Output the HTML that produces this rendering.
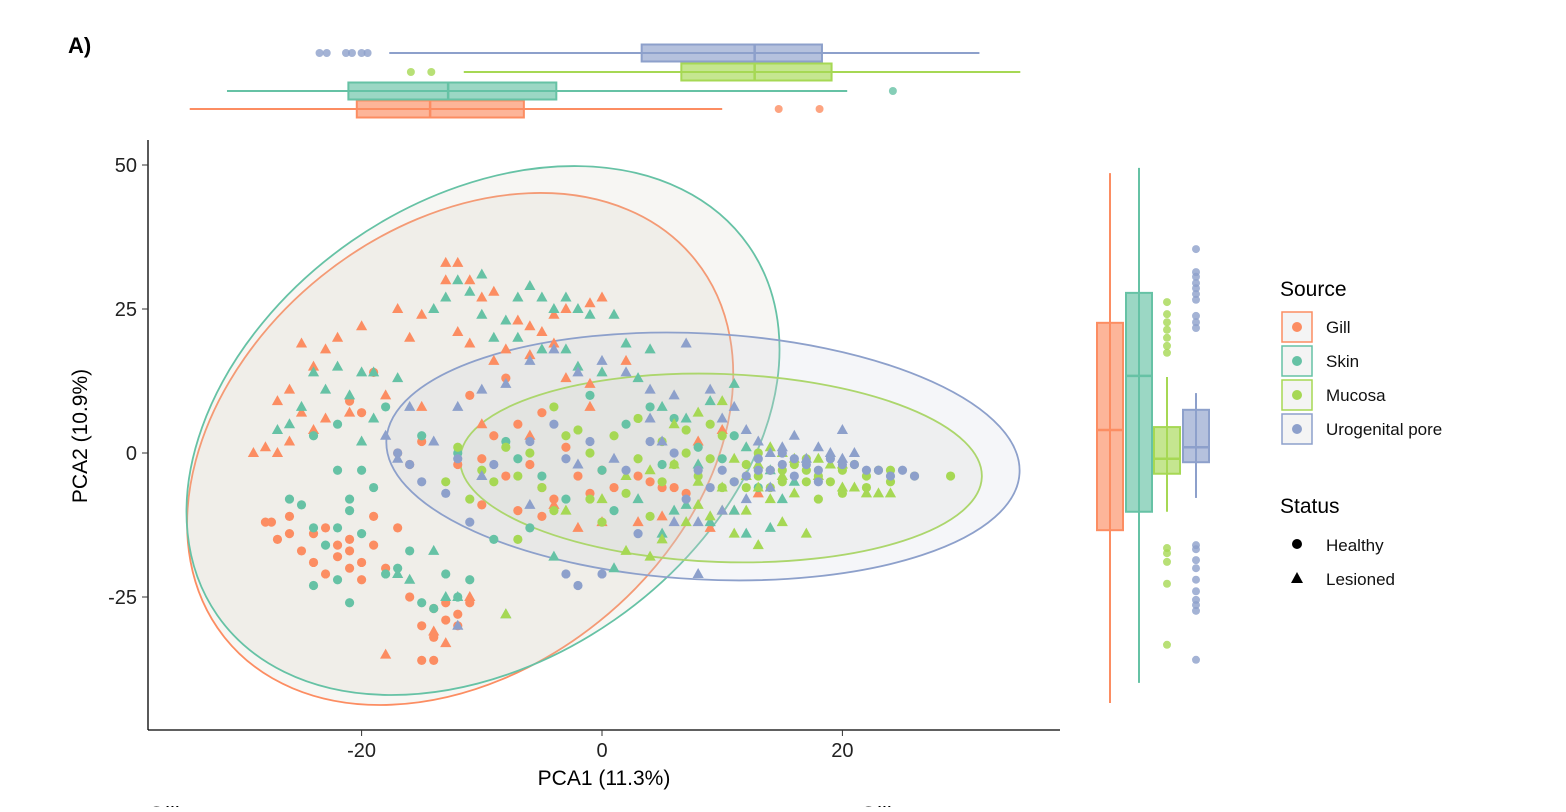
<!DOCTYPE html>
<html><head><meta charset="utf-8">
<style>
body{margin:0;background:#fff;width:1566px;height:807px;overflow:hidden;font-family:"Liberation Sans",Arial,sans-serif;}
svg text{font-family:"Liberation Sans",Arial,sans-serif;}
</style></head>
<body>
<svg id="chart" width="1566" height="807" xmlns="http://www.w3.org/2000/svg">
<text x="68" y="53" font-size="22" font-weight="bold" fill="#000">A)</text>
<g id="ellipses"></g>
<g id="points"></g>
<g id="axes"></g>
<g id="topbox"></g>
<g id="rightbox"></g>
<g id="legend"></g>
<text x="148" y="822" font-size="22" fill="#000">Gill</text>
<text x="860" y="822" font-size="22" fill="#000">Gill</text>
</svg>
<script>
const NS="http://www.w3.org/2000/svg";
const groups=["Gill","Skin","Mucosa","Urogenital pore"];
const colors=["#FC8D62","#66C2A5","#A6D854","#8DA0CB"];
const xTicks=[-20,0,20];
const yTicks=[50,25,0,-25];
const gillHealthy=[[-28,-12],[-27,-15],[-26,-11],[-25,-17],[-24,-14],[-23,-21],[-22,-18],[-21,-17],[-21,-20],[-20,-19],[-22,-16],[-24,-19],[-26,-14],[-27.5,-12],[-19,-16],[-20,-22],[-23,-13],[-21,-15],[-18,-20],[-14,-27],[-13,-26],[-15,-30],[-14,-32],[-14,-36],[-15,-36],[-12,-28],[-11,-26],[-12,-30],[-13,-29],[-16,-25],[-19,-11],[-17,-13],[-12,-2],[-10,-1],[-8,-4],[-6,-2],[-5,-6],[-4,-8],[-3,1],[-2,-4],[-1,-7],[0,-3],[1,-6],[3,-4],[4,-5],[5,-6],[6,-6],[7,-7],[-9,3],[-7,5],[-5,7],[-15,2],[-16,-2],[-17,0],[-20,7],[-21,9],[-10,-9],[-7,-10],[-5,-11],[-19,14],[-11,10],[-8,13]];
const gillLesioned=[[-13,33],[-12,33],[-11,30],[-13,30],[-10,27],[-9,28],[-7,23],[-6,22],[-5,21],[-4,24],[-3,25],[-1,26],[0,27],[-8,18],[-9,16],[-6,17],[-4,19],[-3,13],[-1,12],[-17,25],[-15,24],[-12,21],[-11,19],[-16,20],[-20,22],[-22,20],[-23,18],[-25,19],[-24,15],[-26,11],[-27,9],[-25,7],[-23,6],[-28,1],[-29,0],[-26,2],[-27,0],[-24,4],[-21,7],[-14,-31],[-13,-33],[-18,-35],[-11,-25],[-4,-9],[-2,-13],[0,-12],[3,-12],[5,-11],[9,-13],[11,-10],[13,-7],[10,4],[8,2],[-1,8],[2,16],[-6,3],[-10,5],[-15,8],[-18,10]];
const skinHealthy=[[-25,-9],[-26,-8],[-24,-13],[-23,-16],[-24,-23],[-22,-22],[-21,-10],[-20,-14],[-22,-3],[-20,-3],[-19,-6],[-21,-8],[-22,-13],[-18,-21],[-17,-20],[-16,-17],[-13,-21],[-12,-25],[-14,-27],[-15,-26],[-11,-22],[-21,-26],[-24,3],[-22,5],[-18,8],[-15,3],[-12,0],[-7,-1],[-3,-8],[0,-3],[2,5],[-1,10],[4,8],[6,6],[8,1],[10,-1],[11,3],[13,-6],[-8,2],[-5,-4],[-9,-15],[-6,-13],[1,-10],[5,-2]];
const skinLesioned=[[-12,30],[-11,28],[-10,31],[-13,27],[-14,25],[-10,24],[-8,23],[-7,27],[-6,29],[-5,27],[-4,25],[-3,27],[-2,25],[-1,24],[1,24],[-9,20],[-7,20],[-5,18],[-3,18],[-2,15],[0,14],[3,13],[4,18],[2,19],[-23,11],[-24,14],[-22,15],[-25,8],[-26,5],[-27,4],[-21,10],[-20,14],[-19,14],[-17,13],[-19,6],[-20,2],[-14,-17],[-17,-21],[-16,-22],[-13,-25],[-12,-25],[-8,-28],[-4,-18],[1,-20],[5,-14],[7,-9],[9,-12],[11,-10],[12,-14],[14,-13],[5,8],[7,6],[9,9],[11,12],[12,1],[8,-2],[14,-3],[15,-8],[16,-5],[6,-10],[3,-8]];
const mucosaHealthy=[[-2,4],[-4,8],[-3,3],[-1,0],[1,3],[3,6],[5,2],[6,-2],[7,0],[9,-1],[10,3],[12,-2],[13,-4],[14,-3],[15,-5],[16,-2],[17,-3],[18,-4],[19,-5],[20,-3],[21,-2],[22,-4],[23,-3],[24,-5],[20,-7],[18,-8],[17,-5],[15,-3],[14,-6],[12,-6],[10,-6],[8,-4],[5,-5],[2,-7],[-1,-8],[-5,-6],[-7,-4],[-9,-5],[-10,-3],[-8,1],[-6,0],[-11,-8],[-13,-5],[-12,1],[-4,-10],[0,-12],[4,-11],[29,-4],[26,-4],[24,-3],[22,-6],[17,-1],[13,0],[11,-5],[-7,-15],[3,-1],[7,4],[9,5]];
const mucosaLesioned=[[-3,-10],[0,-8],[2,-4],[4,-3],[6,-2],[8,-5],[10,-6],[11,-1],[12,-4],[13,-6],[14,-8],[15,-4],[16,-7],[13,-2],[14,1],[15,0],[16,-1],[18,-1],[19,-2],[20,-6],[21,-6],[22,-7],[23,-7],[24,-7],[12,-10],[10,-10],[8,-9],[7,-12],[5,-15],[11,-14],[13,-16],[15,-12],[17,-14],[6,5],[8,7],[10,9],[-8,-28],[2,-17],[4,-18],[9,-11],[18,-4],[20,-2]];
const uroHealthy=[[-16,-2],[-17,0],[-15,-5],[-12,-1],[-9,-2],[-6,2],[-4,5],[-3,-1],[-1,2],[2,-3],[4,2],[6,0],[8,-3],[10,-3],[12,-4],[13,-1],[14,-3],[15,-2],[16,-1],[17,-2],[18,-3],[19,-1],[20,-2],[21,-2],[22,-3],[23,-3],[24,-4],[25,-3],[26,-4],[18,-5],[16,-4],[15,0],[13,-3],[11,-5],[9,-6],[7,-8],[-3,-21],[-2,-23],[0,-21],[3,-14],[-13,-7],[-11,-12]];
const uroLesioned=[[-18,3],[-16,8],[-14,2],[-12,8],[-10,11],[-8,12],[-6,16],[-4,18],[-2,14],[0,16],[2,14],[4,11],[6,10],[7,19],[9,11],[10,6],[11,8],[12,4],[13,2],[14,0],[15,1],[16,3],[17,-1],[18,1],[19,0],[20,-1],[21,0],[14,-6],[12,-8],[10,-10],[8,-12],[6,-12],[8,-21],[-12,-30],[-10,-4],[-6,-9],[-2,-2],[1,-1],[4,6],[5,2],[20,4],[-17,-1]];
// ellipse centers (data) and semi-axes (px) + angle
const ellCenterX=[-11.8,-9.9,9.9,8.4];
const ellCenterY=[0.7,3.9,-2.6,-0.6];
const ellA=[301.7,323.6,261,317];
const ellB=[221.5,230.5,94,123];
const ellAngle=[-38.8,-34.8,2,3];
const topStats=[[-34.3,-20.4,-14.3,-6.5,10],[-31.2,-21.1,-12.8,-3.8,20.4],[-11.5,6.6,12.7,19.1,34.8],[-17.7,3.3,12.7,18.3,31.4]];
const topOutliers=[[14.7,18.1],[24.2],[-15.9,-14.2],[-23.5,-22.9,-21.3,-20.8,-20,-19.5]];
const rightStats=[[-43.4,-13.4,4,22.6,48.6],[-39.9,-10.2,13.4,27.8,49.5],[-10.2,-3.6,-1,4.5,13.2],[-7.8,-1.6,1,7.5,10.4]];
const rightOutliers=[[],[],[26.2,24.1,22.7,21.4,20,18.6,17.4,-16.5,-17.4,-18.9,-22.7,-33.3],[35.4,31.4,30.6,29.5,28.6,27.6,26.6,23.8,22.7,21.7,-16,-16.7,-18.6,-20,-22,-24,-25.5,-26.4,-27.4,-35.9]];

const X=v=>602+v*12.02, Y=v=>453-v*5.76;
function mk(tag,attrs,parent){const e=document.createElementNS(NS,tag);for(const k in attrs)e.setAttribute(k,attrs[k]);parent.appendChild(e);return e;}
const gE=document.getElementById('ellipses'),gP=document.getElementById('points'),gA=document.getElementById('axes');
groups.forEach((g,i)=>{
 const e=mk('ellipse',{cx:X(ellCenterX[i]),cy:Y(ellCenterY[i]),rx:ellA[i],ry:ellB[i],transform:`rotate(${ellAngle[i]} ${X(ellCenterX[i])} ${Y(ellCenterY[i])})`,fill:i<2?'#d8d3c4':(i==2?'#d0d4c0':'#c9cfe0'),'fill-opacity':i<2?0.2:0.18,stroke:colors[i],'stroke-width':1.8},gE);
 
 
});
const series=[[gillHealthy,gillLesioned],[skinHealthy,skinLesioned],[mucosaHealthy,mucosaLesioned],[uroHealthy,uroLesioned]];
series.forEach((s,i)=>{
 s[0].forEach(p=>{const c=mk('circle',{cx:X(p[0]),cy:Y(p[1]),r:4.6,fill:colors[i]},gP);
  
  });
 s[1].forEach(p=>{const x=X(p[0]),y=Y(p[1]);const t=mk('polygon',{points:`${x},${y-6} ${x-5.6},${y+4} ${x+5.6},${y+4}`,fill:colors[i]},gP);
  
  });
});
mk('line',{x1:148,y1:140,x2:148,y2:730,stroke:'#000','stroke-width':1.3},gA);
mk('line',{x1:148,y1:730,x2:1060,y2:730,stroke:'#000','stroke-width':1.3},gA);
xTicks.forEach(t=>{mk('line',{x1:X(t),y1:730,x2:X(t),y2:736,stroke:'#333'},gA);
 const tx=mk('text',{x:X(t),y:757,'font-size':20,'text-anchor':'middle',fill:'#222'},gA);tx.textContent=t;
 
 });
yTicks.forEach(t=>{mk('line',{x1:142,y1:Y(t),x2:148,y2:Y(t),stroke:'#333'},gA);
 const tx=mk('text',{x:137,y:Y(t)+7,'font-size':20,'text-anchor':'end',fill:'#222'},gA);tx.textContent=t;
 
 });
let xt=mk('text',{x:604,y:785,'font-size':21,'text-anchor':'middle',fill:'#000'},gA);xt.textContent='PCA1 (11.3%)';


let yt=mk('text',{x:0,y:0,'font-size':21,'text-anchor':'middle',fill:'#000',transform:'translate(87,436) rotate(-90)'},gA);yt.textContent='PCA2 (10.9%)';


const gT=document.getElementById('topbox');
const topY=[109,91,72,53];
groups.forEach((g,i)=>{const s=topStats[i],cy=topY[i];
 mk('line',{x1:X(s[0]),y1:cy,x2:X(s[4]),y2:cy,stroke:colors[i],'stroke-width':2},gT);
 const b=mk('rect',{x:X(s[1]),y:cy-8.5,width:X(s[3])-X(s[1]),height:17,fill:colors[i],'fill-opacity':0.65,stroke:colors[i],'stroke-width':2},gT);
 
 
 mk('line',{x1:X(s[2]),y1:cy-8.5,x2:X(s[2]),y2:cy+8.5,stroke:colors[i],'stroke-width':2.5},gT);
 topOutliers[i].forEach(o=>mk('circle',{cx:X(o),cy:cy,r:4,fill:colors[i],'fill-opacity':0.8},gT));
});
const gR=document.getElementById('rightbox');
const rightX=[1110,1139,1167,1196];
groups.forEach((g,i)=>{const s=rightStats[i],cx=rightX[i];
 mk('line',{x1:cx,y1:Y(s[0]),x2:cx,y2:Y(s[4]),stroke:colors[i],'stroke-width':2},gR);
 const b=mk('rect',{x:cx-13,y:Y(s[3]),width:26,height:Y(s[1])-Y(s[3]),fill:colors[i],'fill-opacity':0.65,stroke:colors[i],'stroke-width':2},gR);
 
 
 mk('line',{x1:cx-13,y1:Y(s[2]),x2:cx+13,y2:Y(s[2]),stroke:colors[i],'stroke-width':2.5},gR);
 rightOutliers[i].forEach(o=>mk('circle',{cx:cx,cy:Y(o),r:4,fill:colors[i],'fill-opacity':0.8},gR));
});
const gL=document.getElementById('legend');
let lt=mk('text',{x:1280,y:296,'font-size':21,fill:'#000'},gL);lt.textContent='Source';
groups.forEach((g,i)=>{const y=327+i*34;
 const k=mk('g',{},gL);
 
 
 mk('rect',{x:1282,y:y-15,width:30,height:30,fill:'#f4f4f4',stroke:colors[i],'stroke-width':1.5},k);
 mk('circle',{cx:1297,cy:y,r:5,fill:colors[i]},k);
 const t=mk('text',{x:1326,y:y+6,'font-size':17,fill:'#111'},k);t.textContent=g;});
let st=mk('text',{x:1280,y:513,'font-size':21,fill:'#000'},gL);st.textContent='Status';
const s1=mk('g',{},gL);


mk('circle',{cx:1297,cy:544,r:5,fill:'#000'},s1);
let h=mk('text',{x:1326,y:551,'font-size':17,fill:'#111'},s1);h.textContent='Healthy';
const s2=mk('g',{},gL);


mk('polygon',{points:'1297,572 1291,583 1303,583',fill:'#000'},s2);
let l=mk('text',{x:1326,y:585,'font-size':17,fill:'#111'},s2);l.textContent='Lesioned';
</script>
</body></html>
